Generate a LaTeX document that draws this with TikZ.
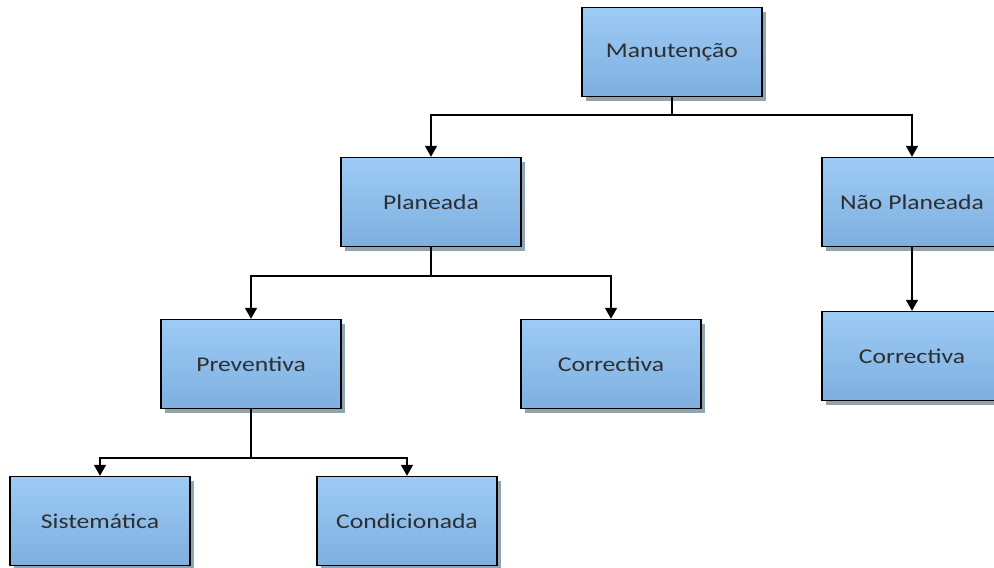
\documentclass[tikz,border=0pt]{standalone}
\usepackage{fontspec}
\setmainfont{Carlito}
\usetikzlibrary{arrows.meta,shadows}
\definecolor{boxtop}{HTML}{9DCBF5}
\definecolor{boxbot}{HTML}{7EAFDF}
\definecolor{shadowc}{HTML}{8FA6B2}
\definecolor{txt}{HTML}{2E2E2E}
\tikzset{
  box/.style={rectangle, draw=black, line width=1.4pt,
    top color=boxtop, bottom color=boxbot,
    minimum width=180pt, minimum height=89pt, inner sep=0pt,
    text=txt, font=\fontsize{21}{24}\selectfont,
    drop shadow={shadow xshift=4pt, shadow yshift=-4pt, fill=shadowc, opacity=1}},
  link/.style={draw=black, line width=1.6pt, -{Triangle[width=12pt,length=11pt]}},
  plain/.style={draw=black, line width=1.6pt}
}
\newcommand{\lbl}[1]{\scalebox{1.22}[1]{#1}}
\begin{document}
\begin{tikzpicture}[x=1pt,y=-1pt]
  \useasboundingbox (0,0) rectangle (994,568);
  % boxes
  \node[box] (man)  at (672,52)  {\lbl{Manutenção}};
  \node[box] (plan) at (431,202) {\lbl{Planeada}};
  \node[box] (nplan) at (912,202) {\lbl{Não Planeada}};
  \node[box] (prev) at (251,364) {\lbl{Preventiva}};
  \node[box] (corr) at (611,364) {\lbl{Correctiva}};
  \node[box] (corr2) at (912,356) {\lbl{Correctiva}};
  \node[box] (sist) at (100,521) {\lbl{Sistemática}};
  \node[box] (cond) at (407,521) {\lbl{Condicionada}};
  % junction points
  \coordinate (j1) at (672,115);
  \coordinate (j2) at (431,276);
  \coordinate (j3) at (251,458);
  % connectors
  \draw[plain] (man.south) -- (j1);
  \draw[link] (j1) -| (plan.north);
  \draw[link] (j1) -| (nplan.north);
  \draw[plain] (plan.south) -- (j2);
  \draw[link] (j2) -| (prev.north);
  \draw[link] (j2) -| (corr.north);
  \draw[link] (nplan.south) -- (corr2.north);
  \draw[plain] (prev.south) -- (j3);
  \draw[link] (j3) -| (sist.north);
  \draw[link] (j3) -| (cond.north);
\end{tikzpicture}
\end{document}
